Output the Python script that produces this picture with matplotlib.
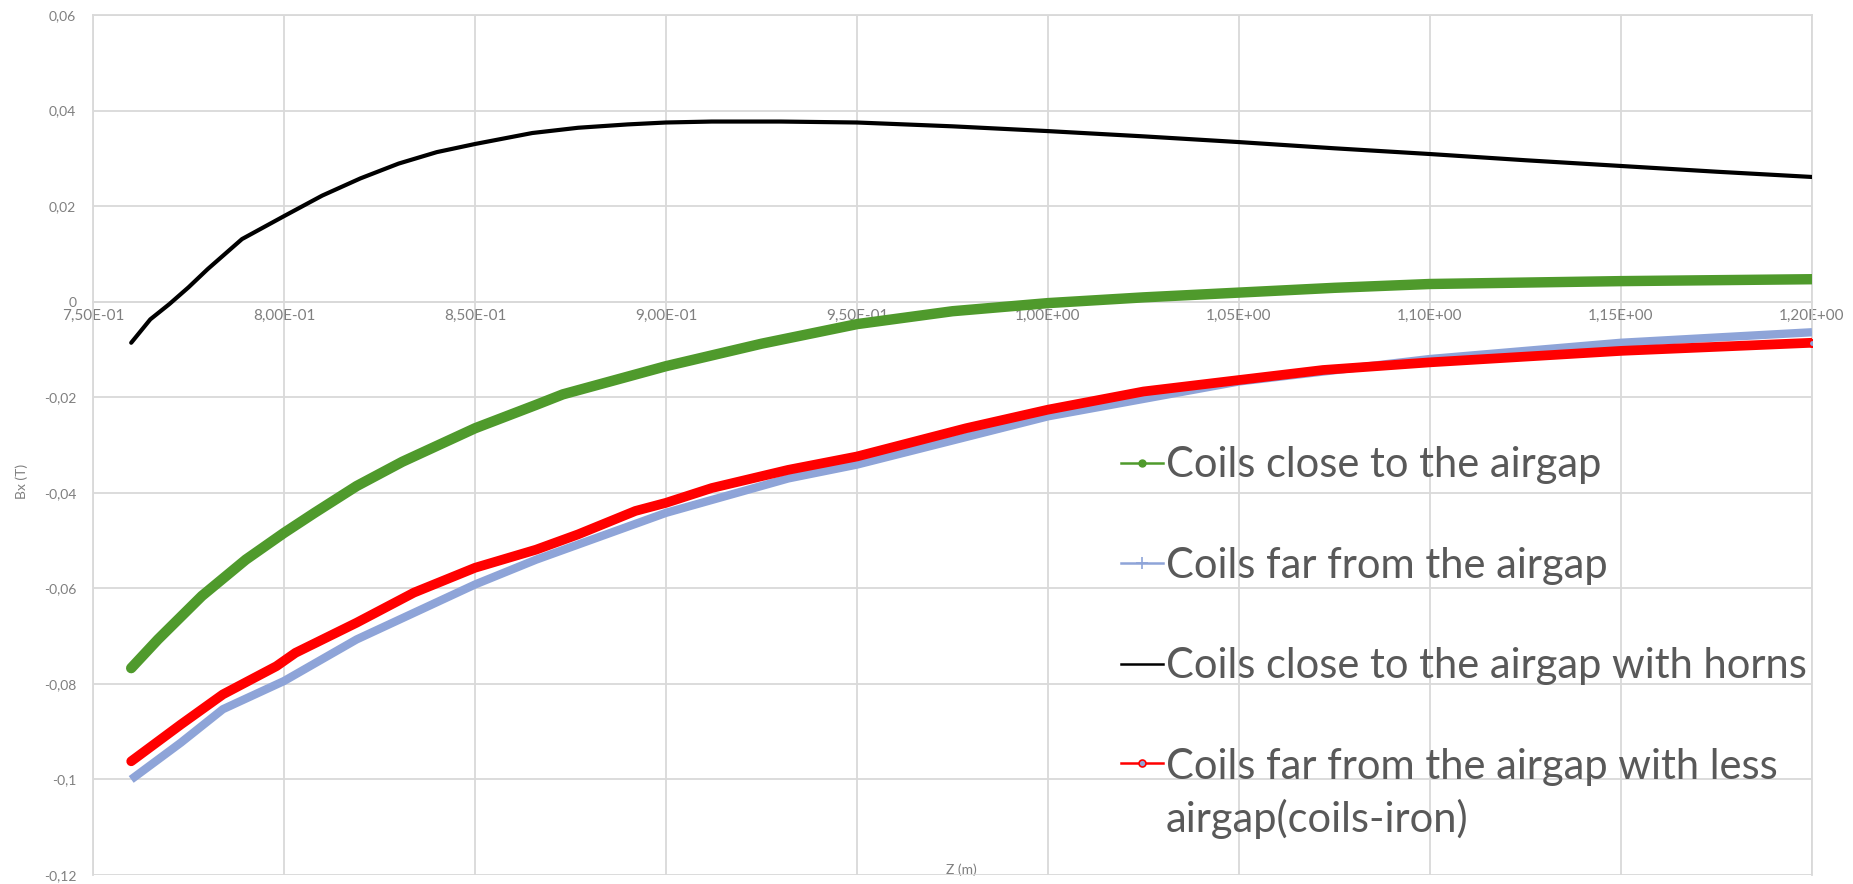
import matplotlib
matplotlib.use("Agg")
import matplotlib.pyplot as plt
from matplotlib.lines import Line2D

plt.rcParams['font.family'] = ['Lato', 'DejaVu Sans']

# ---------------- data ----------------
x_ticks = [0.75, 0.80, 0.85, 0.90, 0.95, 1.00, 1.05, 1.10, 1.15, 1.20]
x_tick_labels = ["7,50E-01", "8,00E-01", "8,50E-01", "9,00E-01", "9,50E-01",
                 "1,00E+00", "1,05E+00", "1,10E+00", "1,15E+00", "1,20E+00"]
y_ticks = [0.06, 0.04, 0.02, 0.0, -0.02, -0.04, -0.06, -0.08, -0.10, -0.12]
y_tick_labels = ["0,06", "0,04", "0,02", "0", "-0,02", "-0,04", "-0,06",
                 "-0,08", "-0,1", "-0,12"]

z_horns = [0.760, 0.765, 0.770, 0.775, 0.780, 0.789, 0.800, 0.810, 0.820, 0.830,
           0.840, 0.850, 0.865, 0.877, 0.890, 0.900, 0.912, 0.930, 0.950, 0.975,
           1.000, 1.025, 1.050, 1.075, 1.100, 1.125, 1.150, 1.175, 1.200]
bx_horns = [-0.0086, -0.0037, -0.0005, 0.0030, 0.0068, 0.0131, 0.0179, 0.0222, 0.0258, 0.0289,
            0.0313, 0.0330, 0.0353, 0.0364, 0.0371, 0.0375, 0.0377, 0.0377, 0.0375, 0.0367,
            0.0357, 0.0346, 0.0334, 0.0321, 0.0309, 0.0296, 0.0284, 0.0272, 0.0261]

z_close = [0.760, 0.767, 0.7785, 0.790, 0.800, 0.808, 0.819, 0.831, 0.850, 0.866,
           0.873, 0.900, 0.925, 0.950, 0.975, 1.000, 1.025, 1.050, 1.075, 1.100,
           1.150, 1.200]
bx_close = [-0.0767, -0.0707, -0.0616, -0.0540, -0.0484, -0.0442, -0.0386, -0.0335, -0.0265, -0.0216,
            -0.0194, -0.0135, -0.0088, -0.0047, -0.0020, -0.0003, 0.0009, 0.0019, 0.0029, 0.0037,
            0.0043, 0.0047]

z_far = [0.760, 0.773, 0.784, 0.800, 0.819, 0.850, 0.866, 0.900, 0.932, 0.950,
         1.000, 1.050, 1.100, 1.150, 1.200]
bx_far = [-0.1000, -0.0923, -0.0853, -0.0794, -0.0707, -0.0592, -0.0540, -0.0442, -0.0370, -0.0341,
          -0.0240, -0.0167, -0.0120, -0.0086, -0.0064]

z_less = [0.760, 0.773, 0.784, 0.798, 0.803, 0.819, 0.834, 0.850, 0.866, 0.877,
          0.892, 0.900, 0.912, 0.932, 0.950, 0.9785, 1.000, 1.025, 1.050, 1.072,
          1.100, 1.150, 1.200]
bx_less = [-0.0962, -0.0885, -0.0822, -0.0763, -0.0735, -0.0672, -0.0609, -0.0557, -0.0519, -0.0487,
           -0.0438, -0.0421, -0.0390, -0.0352, -0.0324, -0.0265, -0.0226, -0.0188, -0.0164, -0.0143,
           -0.0127, -0.0103, -0.0086]

labels = ["Coils close to the airgap",
          "Coils far from the airgap",
          "Coils close to the airgap with horns",
          "Coils far from the airgap with less\nairgap(coils-iron)"]

GREEN = "#4F9A2C"
BLUE = "#8EA4D8"
BLACK = "#000000"
RED = "#FF0000"
GRID = "#D9D9D9"
TXT = "#7F7F7F"
LEG = "#595959"

# ---------------- figure ----------------
fig = plt.figure(figsize=(18.53, 8.84), dpi=100)
ax = fig.add_axes([0.05019, 0.01018, 0.92769, 0.97285])

ax.plot(z_close, bx_close, color=GREEN, lw=7.5, solid_capstyle='round', solid_joinstyle='round', zorder=3)
ax.plot(z_far, bx_far, color=BLUE, lw=6.0, solid_capstyle='butt', solid_joinstyle='round', zorder=3)
ax.plot(z_horns, bx_horns, color=BLACK, lw=3.0, solid_capstyle='round', solid_joinstyle='round', zorder=4)
ax.plot(z_less, bx_less, color=RED, lw=7.0, solid_capstyle='round', solid_joinstyle='round', zorder=5)
ax.plot([z_less[-1]], [bx_less[-1]], marker='o', ms=5, mfc=BLUE, mec=RED, mew=1.5, ls='none', zorder=6)

ax.set_xlim(0.75, 1.20)
ax.set_ylim(-0.12, 0.06)
ax.set_xticks(x_ticks)
ax.set_xticklabels(x_tick_labels)
ax.set_yticks(y_ticks)
ax.set_yticklabels(y_tick_labels)
ax.grid(True, color=GRID, lw=1.3, zorder=0)
ax.set_axisbelow(True)

for s in ['left', 'right', 'top']:
    ax.spines[s].set_color(GRID)
    ax.spines[s].set_linewidth(1.3)
ax.spines['bottom'].set_position(('data', 0))
ax.spines['bottom'].set_color(GRID)
ax.spines['bottom'].set_linewidth(1.3)

ax.tick_params(axis='x', length=0, pad=5, labelsize=11, labelcolor=TXT)
ax.tick_params(axis='y', length=0, pad=12, labelsize=10, labelcolor=TXT)

ax.set_xlabel("Z (m)", fontsize=10, color=TXT)
ax.xaxis.set_label_coords(0.505, 0.013)
ax.set_ylabel("Bx (T)", fontsize=10, color=TXT)
ax.yaxis.set_label_coords(-0.0378, 0.458)

handles = [
    Line2D([], [], color=GREEN, lw=1.8, marker='o', ms=5, mfc=GREEN, mec=GREEN),
    Line2D([], [], color=BLUE, lw=1.8, marker='+', ms=9, mew=1.2, mec=BLUE),
    Line2D([], [], color=BLACK, lw=1.8),
    Line2D([], [], color=RED, lw=1.8, marker='o', ms=5, mfc=BLUE, mec=RED, mew=1.2),
]
leg = ax.legend(handles, labels, loc='upper left', bbox_to_anchor=(0.605, 0.495),
                bbox_transform=fig.transFigure, frameon=False, fontsize=30,
                labelcolor=LEG, handlelength=1.0, handletextpad=0.08,
                labelspacing=1.5, borderpad=0, borderaxespad=0)
leg.get_texts()[3].set_linespacing(1.39)
try:
    col = leg._legend_handle_box.get_children()[0]
    col.get_children()[3].align = 'top'
except Exception:
    pass

fig.savefig("out.png", dpi=100, facecolor='white')
